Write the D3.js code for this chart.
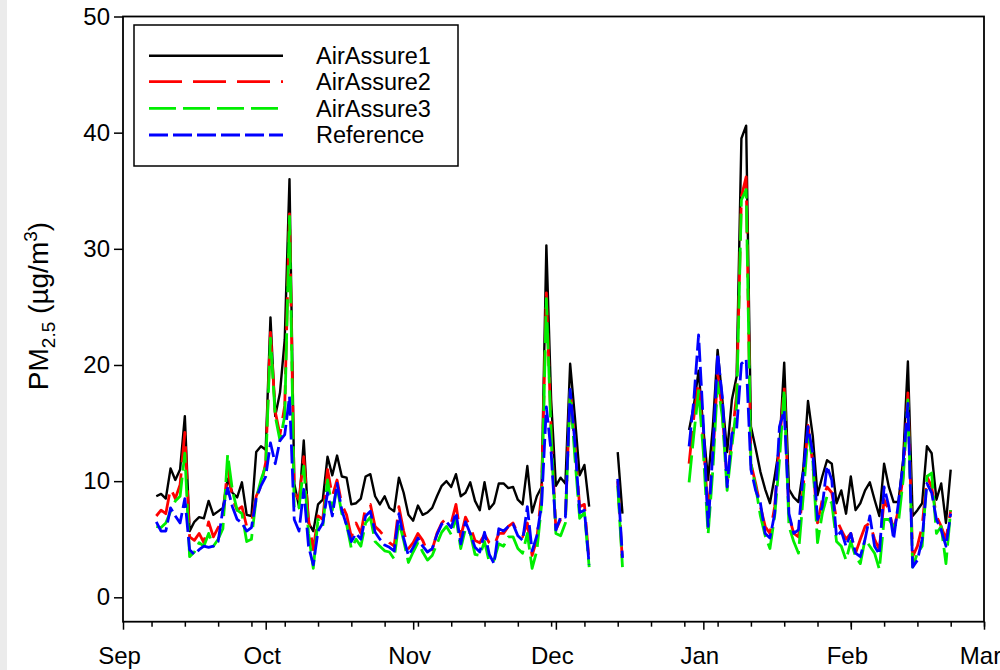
<!DOCTYPE html>
<html>
<head>
<meta charset="utf-8">
<script src="https://cdn.jsdelivr.net/npm/d3@7"></script>
<style>
  html, body { margin: 0; padding: 0; background: #ffffff; }
  svg { display: block; font-family: "Liberation Sans", Arial, sans-serif; }
</style>
</head>
<body>
<svg id="chart" width="1000" height="670"></svg>
<script>
// Daily PM2.5 series, one value per day starting 8 Sep 2018; null = no data
const firstDay = "2018-09-08";

const airAssure1 = [
  8.7, 8.9, 8.5, 11.1, 10.1, 11.0, 15.6, 5.7, 6.5, 6.9,
  6.8, 8.3, 7.1, 7.4, 7.7, 10.2, 9.0, 8.6, 9.9, 7.1,
  7.0, 12.5, 13.0, 12.7, 24.1, 15.6, 17.6, 22.2, 36.0, 9.8,
  7.8, 13.5, 6.4, 5.7, 8.0, 8.4, 12.1, 10.5, 12.2, 10.4,
  10.3, 8.0, 8.1, 8.5, 10.4, 10.6, 8.7, 8.0, 8.7, 7.7,
  7.4, 10.3, 9.0, 7.1, 6.6, 7.9, 7.1, 7.3, 7.7, 8.7,
  9.6, 10.0, 9.5, 10.6, 8.7, 9.0, 9.9, 8.3, 7.5, 9.9,
  7.6, 8.1, 9.8, 9.8, 9.4, 9.5, 8.4, 8.0, 11.3, 7.3,
  8.7, 9.5, 30.3, 17.0, 9.6, 10.3, 9.8, 20.1, 15.5, 10.5, 11.4, 7.8,
  null, null, null, null, null,
  12.5, 7.2,
  null, null, null, null, null, null, null, null, null, null, null, null, null,
  14.4, 16.5, 19.5, 14.5, 10.1, 14.7, 21.3, 17.0, 12.5, 17.0,
  19.0, 39.5, 40.6, 14.7, 12.8, 10.8, 9.3, 8.1, 10.4, 13.0,
  20.2, 9.3, 8.6, 8.2, 11.0, 16.9, 13.9, 8.8, 10.4, 11.8,
  11.5, 8.1, 9.2, 7.2, 10.4, 7.5, 8.1, 9.2, 9.9, 8.4,
  7.0, 11.5, 9.5, 8.2, 8.2, 11.8, 20.3, 7.0, 7.5, 8.1,
  13.0, 12.4, 8.4, 9.8, 6.4, 11.0
];

const airAssure2 = [
  7.0, 7.5, 7.2, 9.4, 8.5, 9.7, 14.2, 5.2, 4.9, 5.5,
  4.7, 6.5, 5.2, 6.0, 6.7, 11.3, 8.5, 7.5, 7.8, 6.1,
  6.4, 8.7, 9.6, 11.6, 22.8, 16.0, 14.0, 16.5, 33.0, 9.0,
  8.4, 12.1, 6.7, 4.1, 7.0, 6.7, 11.0, 8.7, 10.1, 8.0,
  7.1, 5.2, 6.4, 5.5, 7.8, 8.0, 6.1, 5.7, 5.2, 4.7,
  4.4, 7.8, 5.7, 4.2, 4.7, 5.5, 4.9, 3.9, 4.1, 5.5,
  6.4, 6.8, 6.4, 8.0, 5.2, 6.9, 6.1, 4.9, 4.7, 5.4,
  4.7, 4.4, 5.5, 5.5, 6.1, 6.4, 5.5, 5.2, 6.4, 3.6,
  5.0, 9.0, 26.2, 14.4, 5.8, 6.7, 6.7, 17.9, 13.0, 7.8, 8.0, 3.0,
  null, null, null, null, null,
  10.0, 3.0,
  null, null, null, null, null, null, null, null, null, null, null, null, null,
  11.5, 15.5, 18.5, 13.5, 7.2, 12.0, 19.3, 16.0, 10.0, 13.6,
  17.5, 34.5, 36.2, 11.5, 9.8, 7.8, 6.1, 5.5, 7.8, 13.3,
  18.1, 7.0, 5.5, 5.2, 9.5, 14.8, 11.5, 6.4, 8.4, 9.5,
  9.0, 6.7, 5.8, 5.0, 5.5, 3.8, 5.0, 6.1, 6.4, 5.0,
  4.1, 8.4, 7.5, 5.8, 7.5, 10.4, 17.6, 3.5, 4.4, 6.1,
  10.4, 9.5, 7.0, 6.1, 5.0, 7.5
];

const airAssure3 = [
  6.1, 6.0, 6.4, 7.4, 8.3, 8.7, 12.4, 3.5, 3.9, 4.7,
  4.4, 5.5, 4.4, 5.0, 5.9, 12.3, 9.2, 7.5, 7.2, 4.8,
  5.0, 8.5, 10.1, 11.3, 22.3, 15.6, 13.5, 15.6, 32.8, 7.5,
  7.7, 11.3, 5.5, 2.5, 6.7, 6.1, 10.1, 7.5, 9.5, 7.2,
  6.3, 4.2, 5.0, 4.4, 6.4, 6.9, 4.8, 4.4, 4.0, 3.9,
  3.3, 6.5, 4.9, 3.0, 3.9, 4.7, 3.9, 3.2, 3.6, 4.6,
  5.6, 6.1, 5.4, 6.9, 4.2, 5.9, 5.5, 3.7, 3.6, 4.8,
  3.0, 3.2, 4.6, 4.4, 5.2, 5.2, 4.2, 3.8, 5.5, 2.5,
  4.0, 8.0, 25.7, 14.0, 5.5, 5.3, 6.4, 17.8, 12.0, 6.8, 7.3, 2.6,
  null, null, null, null, null,
  9.6, 2.6,
  null, null, null, null, null, null, null, null, null, null, null, null, null,
  9.9, 14.0, 17.8, 12.5, 5.4, 11.0, 18.5, 15.5, 9.2, 13.0,
  16.5, 34.2, 35.1, 11.5, 9.5, 7.0, 5.3, 4.2, 7.0, 11.8,
  17.9, 6.1, 4.8, 3.8, 8.7, 14.0, 11.8, 4.7, 7.2, 8.7,
  8.1, 4.8, 4.4, 3.2, 4.8, 3.5, 2.9, 5.0, 4.4, 3.8,
  2.4, 6.7, 6.7, 6.1, 6.4, 10.1, 17.0, 2.6, 3.8, 4.4,
  10.4, 10.7, 5.5, 6.1, 2.9, 7.5
];

const reference = [
  6.5, 5.7, 5.7, 7.7, 7.0, 6.4, 8.5, 4.1, 3.7, 4.1,
  4.4, 4.3, 4.4, 4.8, 7.6, 9.4, 7.8, 6.7, 6.4, 5.7,
  6.0, 8.5, 9.6, 10.4, 13.3, 11.5, 13.5, 14.0, 17.3, 6.7,
  5.7, 9.3, 4.4, 2.8, 5.7, 6.4, 9.0, 7.0, 9.8, 7.5,
  6.2, 4.8, 5.5, 5.0, 7.0, 7.4, 5.6, 5.0, 4.5, 4.3,
  4.0, 7.2, 5.1, 3.6, 4.3, 5.1, 4.4, 3.9, 4.2, 5.4,
  6.3, 6.5, 6.0, 7.3, 4.6, 6.5, 5.5, 4.3, 3.9, 5.6,
  3.7, 2.9, 5.9, 5.7, 6.1, 6.3, 5.3, 4.9, 7.8, 4.0,
  5.3, 8.0, 16.4, 12.5, 5.8, 6.9, 6.9, 17.9, 13.3, 7.3, 7.5, 2.8,
  null, null, null, null, null,
  10.2, 3.4,
  null, null, null, null, null, null, null, null, null, null, null, null, null,
  13.0, 17.0, 22.6, 15.0, 6.1, 12.5, 21.0, 17.2, 9.5, 14.1,
  14.5, 20.1, 20.5, 11.0, 9.2, 8.1, 5.5, 5.1, 7.2, 14.7,
  16.1, 7.2, 5.5, 5.8, 10.7, 14.7, 12.4, 6.7, 7.8, 11.3,
  10.1, 5.2, 5.7, 4.4, 5.5, 3.8, 3.5, 5.0, 7.0, 4.4,
  3.7, 9.5, 7.8, 5.0, 8.1, 11.5, 16.7, 2.6, 3.2, 5.0,
  9.8, 9.0, 6.7, 5.8, 4.4, 7.2
];

const seriesNames = ["AirAssure1", "AirAssure2", "AirAssure3", "Reference"];
const monthLabels = ["Sep", "Oct", "Nov", "Dec", "Jan", "Feb", "Mar"];
const yTicks = [0, 10, 20, 30, 40, 50];

// Styling per series (same dash patterns in plot and legend)
const styles = [
  { color: "#000000", width: 2.4, dash: null },
  { color: "#ff0000", width: 2.8, dash: "33,11" },
  { color: "#00ee00", width: 2.8, dash: "27,7" },
  { color: "#0000ff", width: 2.8, dash: "19,5" }
];

const parse = d3.timeParse("%Y-%m-%d");
const start = parse(firstDay);
const days = d3.range(airAssure1.length).map(i => d3.timeDay.offset(start, i));

const svg = d3.select("#chart");
const L = 123, R = 984, T = 16.5, B = 621.7;
const FONT = "'Liberation Sans', Arial, sans-serif";

// faint grey strip at the left edge
svg.append("rect").attr("x", 0).attr("y", 0).attr("width", 7).attr("height", 670).attr("fill", "#ebebeb");

const x = d3.scaleTime()
  .domain([new Date(2018, 8, 1), new Date(2019, 2, 1)])
  .range([L, R]);
const y = d3.scaleLinear().domain([-2.1, 50]).range([B, T]);

// series lines, reference drawn last
const allSeries = [airAssure1, airAssure2, airAssure3, reference];
const line = d3.line()
  .defined(d => d.v !== null)
  .x(d => x(d.t))
  .y(d => y(d.v));

allSeries.forEach((vals, k) => {
  const pts = vals.map((v, i) => ({ t: days[i], v: v }));
  svg.append("path")
    .datum(pts)
    .attr("fill", "none")
    .attr("stroke", styles[k].color)
    .attr("stroke-width", styles[k].width)
    .attr("stroke-linejoin", "round")
    .attr("stroke-dasharray", styles[k].dash)
    .attr("d", line);
});

// frame
svg.append("rect")
  .attr("x", L).attr("y", T).attr("width", R - L).attr("height", B - T)
  .attr("fill", "none").attr("stroke", "#000").attr("stroke-width", 1.8);

// y axis
const yAxis = d3.axisLeft(y).tickValues(yTicks).tickSize(9).tickPadding(4);
const gy = svg.append("g").attr("transform", `translate(${L},0)`).call(yAxis);
gy.select(".domain").remove();
gy.selectAll("line").attr("stroke-width", 1.5);
gy.selectAll("text").attr("font-size", 24).attr("fill", "#000").attr("font-family", FONT);

// x axis: month ticks (long) and weekly minor ticks
const monthTicks = d3.timeMonth.range(new Date(2018, 8, 1), new Date(2019, 2, 2));
const xAxis = d3.axisBottom(x).tickValues(monthTicks).tickSize(8).tickPadding(17)
  .tickFormat((d, i) => monthLabels[i]);
const gx = svg.append("g").attr("transform", `translate(0,${B})`).call(xAxis);
gx.select(".domain").remove();
gx.selectAll("line").attr("stroke-width", 1.5);
gx.selectAll("text").attr("font-size", 24).attr("fill", "#000").attr("font-family", FONT)
  .attr("dx", -4);

const weekTicks = d3.timeFriday.range(new Date(2018, 8, 1), new Date(2019, 2, 2));
const gxm = svg.append("g").attr("transform", `translate(0,${B})`)
  .call(d3.axisBottom(x).tickValues(weekTicks).tickSize(5).tickFormat(""));
gxm.select(".domain").remove();
gxm.selectAll("line").attr("stroke-width", 1.5);

// y axis title: PM2.5 (µg/m3)
const yt = svg.append("text")
  .attr("transform", `translate(48,306) rotate(-90)`)
  .attr("text-anchor", "middle")
  .attr("font-size", 28)
  .attr("fill", "#000");
yt.append("tspan").text("PM");
yt.append("tspan").attr("font-size", 19).attr("dy", 7).text("2.5");
yt.append("tspan").attr("dy", -7).text(" (µg/m");
yt.append("tspan").attr("font-size", 19).attr("dy", -11).text("3");
yt.append("tspan").attr("dy", 11).text(")");

// legend
const lg = svg.append("g");
lg.append("rect")
  .attr("x", 134).attr("y", 25).attr("width", 324).attr("height", 141)
  .attr("fill", "#fff").attr("stroke", "#000").attr("stroke-width", 1.5);
const rowY = [55.7, 81.7, 108.3, 135];
seriesNames.forEach((name, k) => {
  lg.append("line")
    .attr("x1", 149).attr("x2", 283)
    .attr("y1", rowY[k]).attr("y2", rowY[k])
    .attr("stroke", styles[k].color)
    .attr("stroke-width", styles[k].width)
    .attr("stroke-dasharray", styles[k].dash);
  lg.append("text")
    .attr("x", 316).attr("y", rowY[k]).attr("dy", "0.36em")
    .attr("font-size", 23.5).attr("fill", "#000")
    .text(name);
});
</script>
</body>
</html>
